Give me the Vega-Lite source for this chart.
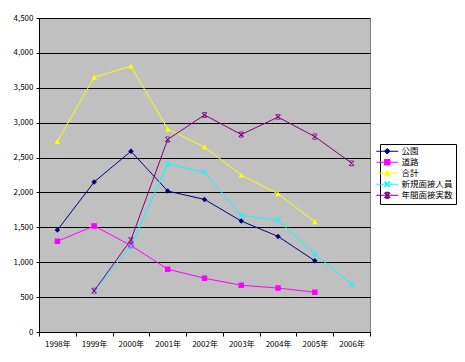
{
  "$schema": "https://vega.github.io/schema/vega-lite/v6.json",
  "width": 331,
  "height": 314,
  "autosize": {"type": "none"},
  "padding": {"left": 39, "top": 18, "right": 95, "bottom": 30},
  "background": "white",
  "config": {
    "view": {"fill": "#C0C0C0", "stroke": "#808080", "strokeWidth": 1},
    "font": "Noto Sans CJK JP",
    "legend": {
      "orient": "none",
      "legendX": 341,
      "legendY": 126,
      "strokeColor": "black",
      "fillColor": "white",
      "padding": 3,
      "labelFontSize": 8.5,
      "labelColor": "black",
      "symbolSize": 30,
      "labelOffset": 10,
      "rowPadding": 1
    }
  },
  "data": {
    "values": [
      {"year": "1998年", "series": "公園", "value": 1460},
      {"year": "1999年", "series": "公園", "value": 2150},
      {"year": "2000年", "series": "公園", "value": 2590},
      {"year": "2001年", "series": "公園", "value": 2020},
      {"year": "2002年", "series": "公園", "value": 1900},
      {"year": "2003年", "series": "公園", "value": 1590},
      {"year": "2004年", "series": "公園", "value": 1370},
      {"year": "2005年", "series": "公園", "value": 1020},
      {"year": "1998年", "series": "道路", "value": 1300},
      {"year": "1999年", "series": "道路", "value": 1520},
      {"year": "2000年", "series": "道路", "value": 1240},
      {"year": "2001年", "series": "道路", "value": 900},
      {"year": "2002年", "series": "道路", "value": 770},
      {"year": "2003年", "series": "道路", "value": 670},
      {"year": "2004年", "series": "道路", "value": 630},
      {"year": "2005年", "series": "道路", "value": 570},
      {"year": "1998年", "series": "合計", "value": 2730},
      {"year": "1999年", "series": "合計", "value": 3650},
      {"year": "2000年", "series": "合計", "value": 3810},
      {"year": "2001年", "series": "合計", "value": 2910},
      {"year": "2002年", "series": "合計", "value": 2650},
      {"year": "2003年", "series": "合計", "value": 2250},
      {"year": "2004年", "series": "合計", "value": 1980},
      {"year": "2005年", "series": "合計", "value": 1580},
      {"year": "1999年", "series": "新規面接人員", "value": 590},
      {"year": "2000年", "series": "新規面接人員", "value": 1230},
      {"year": "2001年", "series": "新規面接人員", "value": 2410},
      {"year": "2002年", "series": "新規面接人員", "value": 2290},
      {"year": "2003年", "series": "新規面接人員", "value": 1670},
      {"year": "2004年", "series": "新規面接人員", "value": 1600},
      {"year": "2005年", "series": "新規面接人員", "value": 1120},
      {"year": "2006年", "series": "新規面接人員", "value": 680},
      {"year": "1999年", "series": "年間面接実数", "value": 590},
      {"year": "2000年", "series": "年間面接実数", "value": 1320},
      {"year": "2001年", "series": "年間面接実数", "value": 2760},
      {"year": "2002年", "series": "年間面接実数", "value": 3110},
      {"year": "2003年", "series": "年間面接実数", "value": 2830},
      {"year": "2004年", "series": "年間面接実数", "value": 3080},
      {"year": "2005年", "series": "年間面接実数", "value": 2800},
      {"year": "2006年", "series": "年間面接実数", "value": 2420}
    ]
  },
  "encoding": {
    "x": {
      "field": "year",
      "type": "ordinal",
      "scale": {"type": "band", "paddingInner": 0, "paddingOuter": 0},
      "axis": {
        "title": null,
        "labelAngle": 0,
        "labelFontSize": 8,
        "labelColor": "black",
        "labelPadding": 4,
        "domainColor": "black",
        "tickColor": "black",
        "tickSize": 4,
        "tickBand": "extent",
        "grid": false
      }
    },
    "y": {
      "field": "value",
      "type": "quantitative",
      "scale": {"domain": [0, 4500], "nice": false},
      "axis": {
        "title": null,
        "values": [0, 500, 1000, 1500, 2000, 2500, 3000, 3500, 4000, 4500],
        "format": ",d",
        "labelFontSize": 8,
        "labelColor": "black",
        "labelPadding": 3,
        "domainColor": "black",
        "tickColor": "black",
        "tickSize": 3,
        "grid": true,
        "gridColor": "black",
        "gridOpacity": 1
      }
    },
    "color": {
      "field": "series",
      "type": "nominal",
      "scale": {
        "domain": ["公園", "道路", "合計", "新規面接人員", "年間面接実数"],
        "range": ["#000080", "#FF00FF", "#FFFF00", "#00FFFF", "#800080"]
      },
      "legend": {
        "title": null,
        "encode": {
          "symbols": {
            "update": {
              "stroke": {"scale": "color", "field": "value"},
              "strokeWidth": {"value": 1}
            }
          }
        }
      }
    }
  },
  "layer": [
    {
      "mark": {"type": "line", "strokeWidth": 1}
    },
    {
      "mark": {"type": "point", "filled": true, "strokeWidth": 0, "size": 30, "opacity": 1},
      "encoding": {
        "shape": {
          "field": "series",
          "type": "nominal",
          "scale": {
            "domain": ["公園", "道路", "合計", "新規面接人員", "年間面接実数"],
            "range": [
              "M-4,0H4M0,-1L1,0L0,1L-1,0Z",
              "M-4,0H4M-1,-1H1V1H-1Z",
              "M-4,0H4M0,-1L1,0.9H-1Z",
              "M-4,0H4M-1,-0.75L-0.75,-1L1,0.75L0.75,1ZM0.75,-1L1,-0.75L-0.75,1L-1,0.75Z",
              "M-4,0H4M-1,-0.75L-0.75,-1L1,0.75L0.75,1ZM0.75,-1L1,-0.75L-0.75,1L-1,0.75ZM-0.6,-1.1H0.6V-0.85H-0.6ZM-0.6,0.85H0.6V1.1H-0.6Z"
            ]
          },
          "legend": {
            "title": null,
            "encode": {
              "symbols": {
                "update": {
                  "stroke": {"scale": "color", "field": "value"},
                  "strokeWidth": {"value": 1}
                }
              }
            }
          }
        }
      }
    }
  ]
}
